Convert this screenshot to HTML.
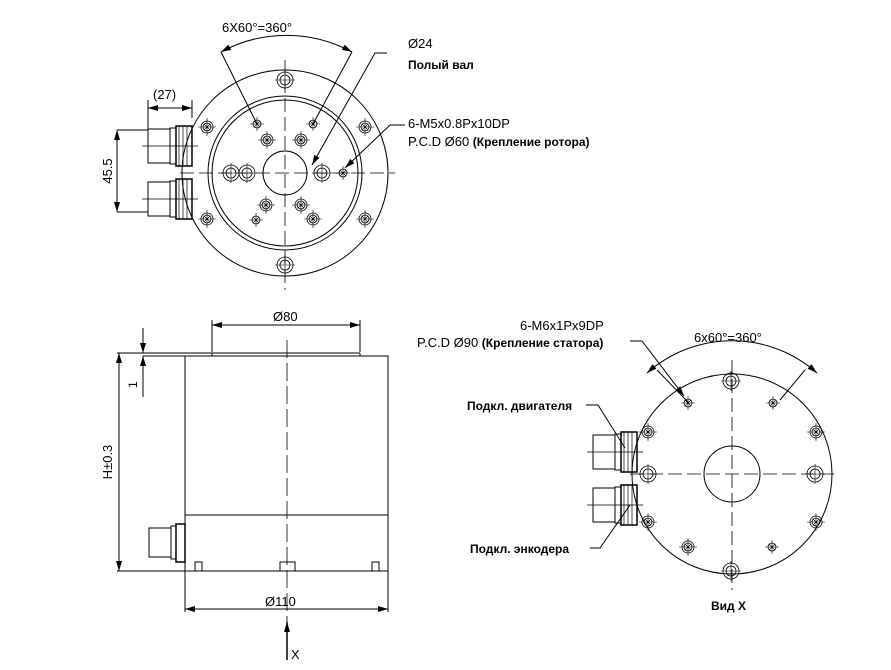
<!DOCTYPE html>
<html><head><meta charset="utf-8"><style>
body{margin:0;background:#fff}
svg{display:block}
text{font-family:"Liberation Sans","DejaVu Sans",sans-serif;fill:#000}
</style></head><body>
<svg width="891" height="670" viewBox="0 0 891 670" xmlns="http://www.w3.org/2000/svg">
<defs>
<marker id="a" viewBox="0 0 10 6" refX="10" refY="3" markerWidth="10" markerHeight="6" orient="auto-start-reverse" markerUnits="userSpaceOnUse"><path d="M0,0L10,3L0,6z" fill="#000"/></marker>
<g id="h1"><circle r="6" fill="none" stroke="#000" stroke-width="0.8"/><circle r="4" fill="none" stroke="#000" stroke-width="0.8"/><path d="M-3,-3L3,3M-3,3L3,-3M0,-9V9M-9,0H9" stroke="#000" stroke-width="0.6"/></g>
<g id="h2"><circle r="4" fill="none" stroke="#000" stroke-width="0.8"/><path d="M-3,-3L3,3M-3,3L3,-3M0,-7V7M-7,0H7" stroke="#000" stroke-width="0.6"/></g>
<g id="h3"><circle r="8" fill="none" stroke="#000" stroke-width="0.8"/><circle r="5" fill="none" stroke="#000" stroke-width="0.8"/><path d="M0,-10V10M-10,0H10" stroke="#000" stroke-width="0.6"/></g>
<g id="conn"><rect x="0" y="-17" width="22" height="34" fill="none" stroke="#000"/><rect x="22" y="-18" width="6" height="36" fill="none" stroke="#000"/><rect x="28" y="-20" width="16" height="40" fill="none" stroke="#000" stroke-width="1.5"/><path d="M31,-20V20M35,-20V20M39,-20V20M-6,0H50" stroke="#000" stroke-width="0.7"/></g>
</defs>
<g fill="none" stroke="#000" stroke-width="1">
<!-- top view -->
<circle cx="285" cy="173" r="103"/>
<circle cx="285" cy="173" r="77"/>
<circle cx="285" cy="173" r="73"/>
<circle cx="285" cy="173" r="22"/>
<path d="M285,60V290M180,173H395" stroke-dasharray="14,5" stroke-width="0.8"/>
<use href="#conn" x="148" y="146"/>
<use href="#conn" x="148" y="199"/>
<path d="M148,130V100M192,118V100M117,130H148M117,212H148"/>
<path d="M148,108H192" marker-start="url(#a)" marker-end="url(#a)"/>
<path d="M117,130V212" marker-start="url(#a)" marker-end="url(#a)"/>
<path d="M221,52A137,137 0 0 1 352,52" marker-start="url(#a)" marker-end="url(#a)"/>
<path d="M221,52L257,124M352,52L313,124"/>
<path d="M387,53H375L312,165" marker-end="url(#a)"/>
<path d="M405,125H390L345,168" marker-end="url(#a)"/>
</g>
<use href="#h3" x="285" y="80"/><use href="#h3" x="285" y="265"/>
<use href="#h1" x="207" y="127"/><use href="#h1" x="365" y="127"/>
<use href="#h1" x="207" y="219"/><use href="#h1" x="365" y="219"/>
<use href="#h2" x="257" y="124"/><use href="#h2" x="313" y="124"/>
<use href="#h1" x="267" y="140"/><use href="#h1" x="301" y="140"/>
<use href="#h3" x="231" y="173"/><use href="#h3" x="247" y="173"/>
<use href="#h3" x="322" y="173"/><use href="#h2" x="343" y="173"/>
<use href="#h1" x="266" y="205"/><use href="#h1" x="301" y="205"/>
<use href="#h2" x="256" y="220"/><use href="#h1" x="313" y="219"/>
<text x="222" y="32" font-size="13">6X60°=360°</text>
<text x="408" y="48" font-size="13">Ø24</text>
<text x="408" y="69" font-size="12" font-weight="bold">Полый вал</text>
<text x="408" y="128" font-size="13">6-M5x0.8Px10DP</text>
<text x="408" y="146" font-size="13">P.C.D Ø60 <tspan font-size="12" font-weight="bold">(Крепление ротора)</tspan></text>
<text x="153" y="99" font-size="13">(27)</text>
<text x="112" y="171" font-size="13" transform="rotate(-90 112 171)" text-anchor="middle">45.5</text>

<!-- side view -->
<g fill="none" stroke="#000" stroke-width="1">
<rect x="185" y="356" width="203" height="215"/>
<path d="M212,353H360M212,353V356M360,353V356"/>
<path d="M185,515H388"/>
<path d="M287,340V640" stroke-dasharray="18,5" stroke-width="0.8"/>
<path d="M212,352V320M360,352V320"/>
<path d="M212,325H360" marker-start="url(#a)" marker-end="url(#a)"/>
<path d="M117,353H212M117,571H388M143,356H185"/>
<path d="M119,353V571" marker-start="url(#a)" marker-end="url(#a)"/>
<path d="M143,328V353" marker-end="url(#a)"/>
<path d="M143,397V356" marker-end="url(#a)"/>
<path d="M185,571V612M388,571V612"/>
<path d="M185,609H388" marker-start="url(#a)" marker-end="url(#a)"/>
<rect x="195" y="562" width="7" height="9"/><rect x="280" y="562" width="15" height="9"/><rect x="372" y="562" width="7" height="9"/>
<path d="M287,660V622" stroke-width="1.5" marker-end="url(#a)"/>
<rect x="149" y="528" width="22" height="29"/><rect x="171" y="526" width="5" height="33"/><rect x="176" y="524" width="9" height="38" stroke-width="1.5"/>
</g>
<text x="273" y="321" font-size="13">Ø80</text>
<text x="265" y="606" font-size="13">Ø110</text>
<text x="291" y="659" font-size="13">X</text>
<text x="137" y="388" font-size="12" transform="rotate(-90 137 388)">1</text>
<text x="112" y="462" font-size="13" transform="rotate(-90 112 462)" text-anchor="middle">H±0.3</text>

<!-- view X -->
<g fill="none" stroke="#000" stroke-width="1">
<circle cx="732" cy="474" r="100"/>
<circle cx="732" cy="474" r="28"/>
<path d="M732,360V590M630,474H838" stroke-dasharray="14,5" stroke-width="0.8"/>
<use href="#conn" x="593" y="452"/>
<use href="#conn" x="593" y="505"/>
<path d="M647,373A128,128 0 0 1 817,373" marker-start="url(#a)" marker-end="url(#a)"/>
<path d="M805,370L780,400M657,370L688,402"/>
<path d="M630,341H642L684,396" marker-end="url(#a)"/>
<path d="M586,405H598L625,448"/>
<path d="M590,548H600L630,505"/>
</g>
<use href="#h3" x="731" y="381"/><use href="#h3" x="731" y="571"/>
<use href="#h2" x="688" y="403"/><use href="#h2" x="773" y="403"/>
<use href="#h1" x="648" y="432"/><use href="#h1" x="816" y="432"/>
<use href="#h3" x="648" y="474"/><use href="#h3" x="815" y="474"/>
<use href="#h1" x="648" y="522"/><use href="#h1" x="816" y="522"/>
<use href="#h1" x="688" y="547"/><use href="#h2" x="772" y="547"/>
<text x="520" y="330" font-size="13">6-M6x1Px9DP</text>
<text x="417" y="347" font-size="13">P.C.D Ø90 <tspan font-size="12" font-weight="bold">(Крепление статора)</tspan></text>
<text x="694" y="342" font-size="13">6x60°=360°</text>
<text x="467" y="410" font-size="12" font-weight="bold">Подкл. двигателя</text>
<text x="470" y="553" font-size="12" font-weight="bold">Подкл. энкодера</text>
<text x="711" y="610" font-size="12" font-weight="bold">Вид X</text>
</svg>
</body></html>
